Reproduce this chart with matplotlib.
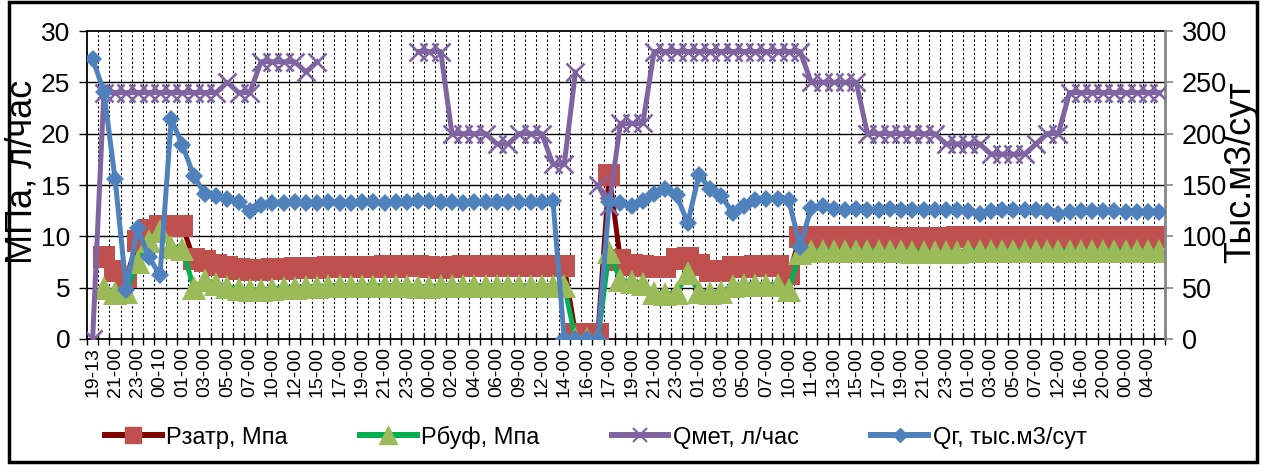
import numpy as np
import matplotlib
matplotlib.use("Agg")
import matplotlib.pyplot as plt
from matplotlib.lines import Line2D
from matplotlib.patches import Rectangle
from matplotlib import font_manager

nan = np.nan

# Labels shown under every second category
tick_labels = ["19-13", "21-00", "23-00", "00-10", "01-00", "03-00", "05-00", "07-00",
               "10-00", "12-00", "15-00", "17-00", "19-00", "21-00", "23-00", "00-00",
               "02-00", "04-00", "06-00", "09-00", "12-00", "14-00", "16-00", "17-00",
               "19-00", "21-00", "23-00", "01-00", "03-00", "05-00", "07-00", "10-00",
               "11-00", "13-00", "15-00", "17-00", "19-00", "21-00", "23-00", "01-00",
               "03-00", "05-00", "07-00", "12-00", "16-00", "20-00", "00-00", "04-00"]

# Затрубное давление, МПа
p_zatr = [nan, 8.0, 6.6, 6.0, 9.5, 10.6, 11.0, 11.0, 11.0, 7.8,
          7.6, 7.2, 7.0, 6.8, 6.7, 6.7, 6.8, 6.8, 6.9, 6.9,
          6.9, 7.0, 7.0, 7.0, 7.0, 7.0, 7.1, 7.0, 7.1, 7.1,
          7.0, 6.9, 7.0, 7.1, 7.1, 7.1, 7.1, 7.1, 7.1, 7.1,
          7.1, 7.1, 7.1, 0.5, 0.5, 0.5, 16.0, 7.7, 7.2, 7.1,
          7.0, 7.0, 7.8, 7.9, 7.2, 6.6, 6.6, 7.0, 7.0, 7.1,
          7.1, 7.1, 6.3, 9.9, 9.9, 9.9, 9.9, 9.9, 9.9, 9.9,
          9.9, 9.8, 9.8, 9.8, 9.8, 9.8, 9.8, 9.9, 9.9, 9.9,
          9.9, 9.9, 9.9, 9.9, 9.9, 9.9, 9.9, 9.9, 9.9, 9.9,
          9.9, 9.9, 9.9, 9.9, 9.9, 9.9]

# Буферное давление, МПа
p_buf = [nan, 5.0, 4.5, 4.6, 7.5, 9.5, 10.5, 9.0, 8.8, 5.0,
         5.7, 5.4, 5.1, 4.9, 4.8, 4.8, 4.9, 5.0, 5.0, 5.1,
         5.1, 5.2, 5.2, 5.2, 5.2, 5.2, 5.2, 5.2, 5.2, 5.1,
         5.1, 5.2, 5.2, 5.2, 5.2, 5.2, 5.2, 5.2, 5.2, 5.2,
         5.2, 5.2, 5.2, 0.0, 0.0, 0.0, 8.5, 5.7, 5.6, 5.4,
         4.5, 4.4, 4.5, 6.4, 4.6, 4.5, 4.6, 5.2, 5.3, 5.3,
         5.3, 5.3, 4.8, 8.4, 8.6, 8.6, 8.6, 8.6, 8.6, 8.6,
         8.6, 8.6, 8.6, 8.5, 8.5, 8.5, 8.5, 8.5, 8.6, 8.6,
         8.6, 8.6, 8.6, 8.6, 8.6, 8.6, 8.6, 8.6, 8.6, 8.6,
         8.6, 8.6, 8.6, 8.6, 8.6, 8.6]

# Расход метанола, л/час (правая шкала)
q_met = [0, 240, 240, 240, 240, 240, 240, 240, 240, 240,
         240, 240, 250, 240, 240, 270, 270, 270, 270, 260,
         270, nan, nan, nan, nan, nan, nan, nan, nan, 280,
         280, 280, 200, 200, 200, 200, 190, 190, 200, 200,
         200, 170, 170, 260, nan, 150, 130, 210, 210, 210,
         280, 280, 280, 280, 280, 280, 280, 280, 280, 280,
         280, 280, 280, 280, 250, 250, 250, 250, 250, 200,
         200, 200, 200, 200, 200, 200, 190, 190, 190, 190,
         180, 180, 180, 180, 190, 200, 200, 240, 240, 240,
         240, 240, 240, 240, 240, 240]

# Дебит газа, тыс. м3/сут (правая шкала)
q_g = [273, 241, 156, 48, 108, 80, 62, 214, 189, 159,
       141, 139, 136, 133, 125, 131, 132, 132, 133, 132,
       132, 133, 132, 132, 133, 133, 132, 133, 133, 134,
       134, 133, 133, 132, 133, 133, 133, 133, 133, 133,
       133, 134, 0, 0, 0, 0, 133, 132, 130, 134,
       141, 146, 140, 113, 160, 146, 139, 123, 130, 135,
       136, 136, 135, 90, 128, 130, 127, 126, 127, 126,
       126, 127, 126, 126, 126, 126, 126, 126, 125, 122,
       125, 126, 126, 126, 126, 125, 122, 124, 125, 125,
       125, 125, 124, 124, 124, 124]

names = ["Рзатр, Мпа", "Рбуф, Мпа", "Qмет, л/час", "Qг, тыс.м3/сут"]

available = {f.name for f in font_manager.fontManager.ttflist}
base_font = "Liberation Sans" if "Liberation Sans" in available else "DejaVu Sans"
plt.rcParams["font.family"] = [base_font, "DejaVu Sans"]

W, H = 1264, 465
PT = 0.72  # points per pixel at 100 dpi
fig = plt.figure(figsize=(W / 100, H / 100), dpi=100)
L, R, B, T = 87, 1165, 339, 31
ax = fig.add_axes([L / W, 1 - B / H, (R - L) / W, (B - T) / H])
ax2 = ax.twinx()

n = len(q_g)
x = np.arange(n)

# grid
ax.hlines([5, 10, 15, 20, 25], -0.5, n - 0.5, colors="black", lw=1.0, zorder=0)
ax.vlines(np.arange(0.5, n - 0.5, 1.0), 0, 30, colors="black", lw=0.8,
          linestyles=(0, (2, 2)), zorder=0)

c_red, c_dred = "#C0504D", "#7F0000"
c_lgreen, c_green = "#9BBB59", "#00B050"
c_purple, c_blue = "#8064A2", "#4F81BD"

ax.plot(x, p_zatr, color=c_dred, lw=5 * PT, marker="s", ms=23 * PT,
        mfc=c_red, mec=c_red, mew=0, zorder=3)
ax.plot(x, p_buf, color=c_green, lw=5 * PT, marker="^", ms=24 * PT,
        mfc=c_lgreen, mec=c_lgreen, mew=0, zorder=4)
ax2.plot(x, q_met, color=c_purple, lw=5 * PT, marker="x", ms=18 * PT,
         mec=c_purple, mew=2.6 * PT, zorder=3)
ax2.plot(x, q_g, color=c_blue, lw=5 * PT, marker="D", ms=13 * PT,
         mfc=c_blue, mec=c_blue, mew=0, zorder=4)

ax.set_xlim(-0.5, n - 0.5)
ax.set_ylim(0, 30)
ax2.set_ylim(0, 300)

ax.set_xticks(np.arange(0, n, 2))
ax.set_xticklabels(tick_labels, rotation=90, fontsize=14)
ax.set_xticks(np.arange(-0.5, n, 1.0), minor=True)
ax.tick_params(axis="x", which="major", length=0, pad=6)
ax.tick_params(axis="x", which="minor", length=8, direction="inout", width=1)

ax.set_yticks(np.arange(0, 31, 5))
ax.tick_params(axis="y", which="major", length=6, width=1, direction="out",
               labelsize=19, pad=6)
ax2.set_yticks(np.arange(0, 301, 50))
ax2.tick_params(axis="y", which="major", length=6, width=1.2, direction="out",
                colors="#868686", labelcolor="black", labelsize=19.5, pad=6)

for s in ["left", "bottom", "top"]:
    ax.spines[s].set_color("black")
    ax.spines[s].set_linewidth(1.3)
ax.spines["right"].set_visible(False)
for s in ["left", "bottom", "top"]:
    ax2.spines[s].set_visible(False)
ax2.spines["right"].set_color("#868686")
ax2.spines["right"].set_linewidth(2)

fig.text(22 / W, 1 - 172 / H, "МПа, л/час", rotation=90, fontsize=26,
         ha="center", va="center")
fig.text(1241 / W, 1 - 172 / H, "Тыс.м3/сут", rotation=90, fontsize=26,
         ha="center", va="center")

handles = [
    Line2D([], [], color=c_dred, lw=6 * PT, marker="s", ms=16 * PT, mfc=c_red, mec=c_red),
    Line2D([], [], color=c_green, lw=6 * PT, marker="^", ms=18 * PT, mfc=c_lgreen, mec=c_lgreen),
    Line2D([], [], color=c_purple, lw=6 * PT, marker="x", ms=14 * PT, mec=c_purple, mew=1.5),
    Line2D([], [], color=c_blue, lw=6 * PT, marker="D", ms=10 * PT, mfc=c_blue, mec=c_blue),
]
fig.legend(handles, names, loc="center left", bbox_to_anchor=(105 / W, 1 - 437 / H),
           ncol=4, frameon=False, handlelength=2.4, handletextpad=0.2,
           columnspacing=3.05, borderpad=0, borderaxespad=0,
           prop={"family": [base_font, "DejaVu Sans"], "size": 17})

fig.patches.append(Rectangle((9 / W, 1 - 462 / H), 1248 / W, 460 / H,
                             transform=fig.transFigure, fill=False,
                             edgecolor="black", lw=2.5))

fig.savefig("out.png", dpi=100)
